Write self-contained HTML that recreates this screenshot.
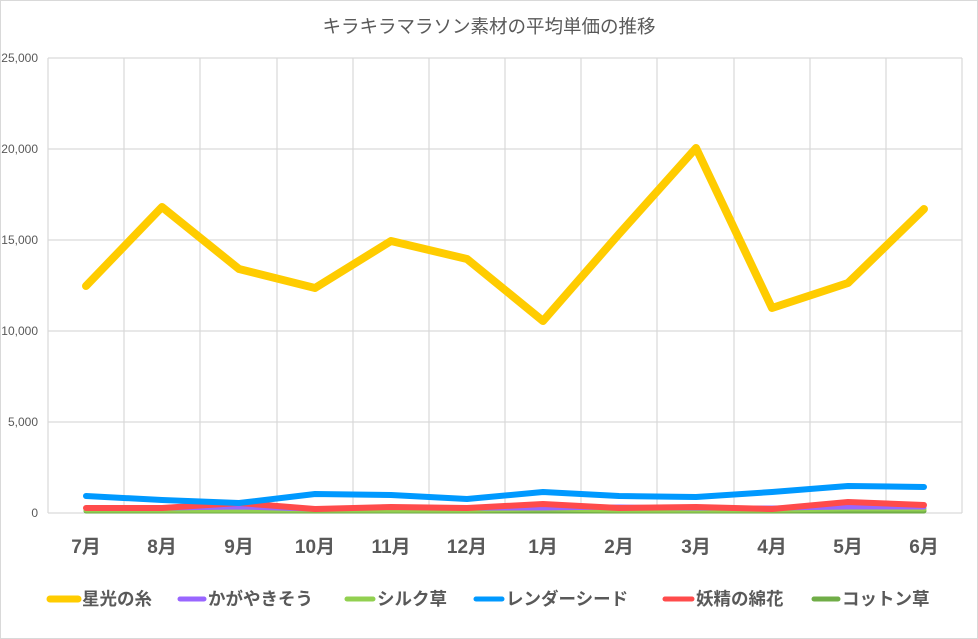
<!DOCTYPE html>
<html><head><meta charset="utf-8"><style>
body{margin:0;background:#fff;}
svg{display:block;font-family:"Liberation Sans","Noto Sans CJK JP",sans-serif;}
</style></head><body>
<svg width="978" height="639" viewBox="0 0 978 639">
<rect x="0.5" y="0.5" width="977" height="638" fill="#fff" stroke="#d9d9d9"/>
<text x="489" y="33" text-anchor="middle" font-size="18.5" fill="#595959">キラキラマラソン素材の平均単価の推移</text>
<g stroke="#d9d9d9" stroke-width="1.2">
<line x1="48" y1="58" x2="962" y2="58"/><line x1="48" y1="149" x2="962" y2="149"/>
<line x1="48" y1="240" x2="962" y2="240"/><line x1="48" y1="331" x2="962" y2="331"/>
<line x1="48" y1="422" x2="962" y2="422"/><line x1="48" y1="513" x2="962" y2="513"/>
<line x1="48" y1="58" x2="48" y2="513"/><line x1="124" y1="58" x2="124" y2="513"/>
<line x1="200" y1="58" x2="200" y2="513"/><line x1="277" y1="58" x2="277" y2="513"/>
<line x1="353" y1="58" x2="353" y2="513"/><line x1="429" y1="58" x2="429" y2="513"/>
<line x1="505" y1="58" x2="505" y2="513"/><line x1="581" y1="58" x2="581" y2="513"/>
<line x1="657" y1="58" x2="657" y2="513"/><line x1="734" y1="58" x2="734" y2="513"/>
<line x1="810" y1="58" x2="810" y2="513"/><line x1="886" y1="58" x2="886" y2="513"/>
<line x1="962" y1="58" x2="962" y2="513"/>
</g>
<g font-size="12" fill="#595959" text-anchor="end">
<text x="38" y="62">25,000</text><text x="38" y="153">20,000</text><text x="38" y="244">15,000</text>
<text x="38" y="335">10,000</text><text x="38" y="426">5,000</text><text x="38" y="517">0</text>
</g>
<g font-size="19" font-weight="bold" fill="#595959" text-anchor="middle">
<text x="86" y="553">7月</text><text x="162" y="553">8月</text><text x="239" y="553">9月</text>
<text x="315" y="553">10月</text><text x="391" y="553">11月</text><text x="467" y="553">12月</text>
<text x="543" y="553">1月</text><text x="619" y="553">2月</text><text x="696" y="553">3月</text>
<text x="772" y="553">4月</text><text x="848" y="553">5月</text><text x="924" y="553">6月</text>
</g>
<g fill="none" stroke-linejoin="round" stroke-linecap="round">
<polyline stroke="#70ad47" stroke-width="5" points="86,511 162,511 239,511 315,511 391,511 467,511 543,511 619,511 696,511 772,511 848,511 924,511"/>
<polyline stroke="#92d050" stroke-width="5" points="86,510 162,510 239,510 315,510 391,510 467,510 543,509 619,510 696,510 772,510 848,509 924,509"/>
<polyline stroke="#9966ff" stroke-width="5" points="86,508 162,508 239,507 315,509 391,507 467,508 543,508 619,507 696,508 772,508 848,507 924,507"/>
<polyline stroke="#ff4b4b" stroke-width="6" points="86,508 162,508 239,503 315,509 391,507 467,508 543,504 619,508 696,507 772,509 848,502 924,505"/>
<polyline stroke="#0099ff" stroke-width="6" points="86,496 162,500 239,503 315,494 391,495 467,499 543,492 619,496 696,497 772,492 848,486 924,487"/>
<polyline stroke="#ffcc00" stroke-width="8" points="86,286 162,207 239,269 315,288 391,241 467,259 543,321 619,234 696,148 772,308 848,283 924,209"/>
</g>
<g font-size="17.5" font-weight="bold" fill="#595959" stroke-linecap="round">
<line x1="50" y1="599" x2="78" y2="599" stroke="#ffcc00" stroke-width="7"/><text x="82" y="605">星光の糸</text>
<line x1="180" y1="599" x2="204" y2="599" stroke="#9966ff" stroke-width="5"/><text x="208" y="605">かがやきそう</text>
<line x1="347" y1="599" x2="373" y2="599" stroke="#92d050" stroke-width="5"/><text x="377" y="605">シルク草</text>
<line x1="476" y1="599" x2="502" y2="599" stroke="#0099ff" stroke-width="5"/><text x="506" y="605">レンダーシード</text>
<line x1="665" y1="599" x2="692" y2="599" stroke="#ff4b4b" stroke-width="5"/><text x="696" y="605">妖精の綿花</text>
<line x1="814" y1="599" x2="838" y2="599" stroke="#70ad47" stroke-width="5"/><text x="842" y="605">コットン草</text>
</g>
</svg>
</body></html>
